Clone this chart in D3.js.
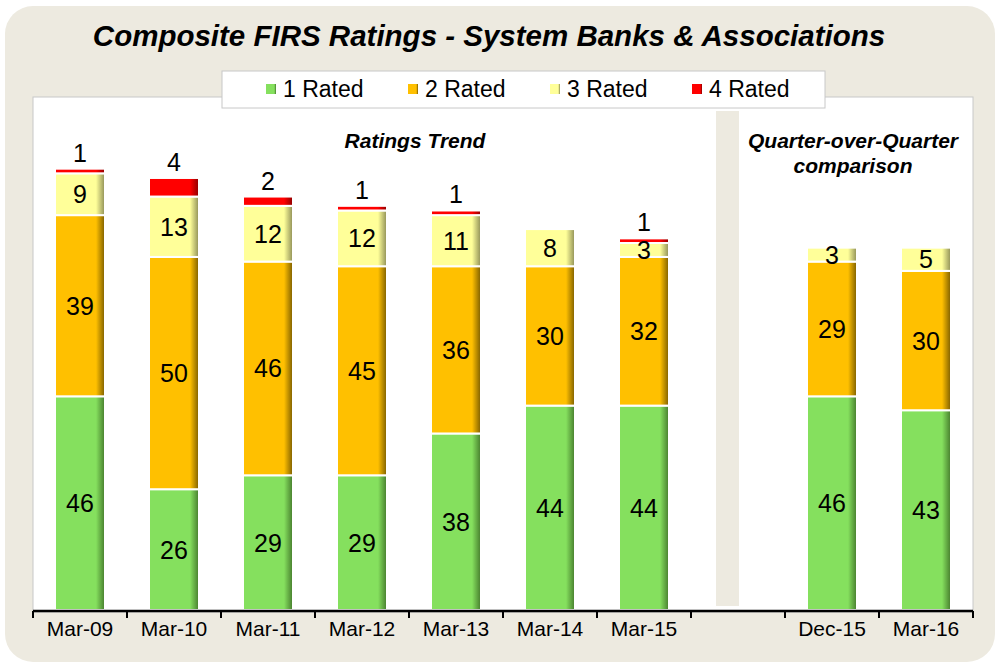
<!DOCTYPE html>
<html lang="en">
<head>
<meta charset="utf-8">
<script src="https://d3js.org/d3.v7.min.js"></script>
<style>
  body { margin: 0; background: #fff; }
  text { font-family: "Liberation Sans", Arial, sans-serif; }
</style>
</head>
<body>
<script>
    // values
    const categories = ["Mar-09", "Mar-10", "Mar-11", "Mar-12", "Mar-13", "Mar-14", "Mar-15", "gap", "Dec-15", "Mar-16"];
    const rated1 = [46, 26, 29, 29, 38, 44, 44, null, 46, 43];
    const rated2 = [39, 50, 46, 45, 36, 30, 32, null, 29, 30];
    const rated3 = [9, 13, 12, 12, 11, 8, 3, null, 3, 5];
    const rated4 = [1, 4, 2, 1, 1, 0, 1, null, 0, 0];
    const seriesNames = ["1 Rated", "2 Rated", "3 Rated", "4 Rated"];

    const W = 1000, H = 665;
    const svg = d3.select("body").append("svg").attr("width", W).attr("height", H);

    const fills = [
        { id: "g1", main: "#85e05e", dark: "#457a2c" },
        { id: "g2", main: "#ffc000", dark: "#7a5c00" },
        { id: "g3", main: "#ffff99", dark: "#8c8c55" },
        { id: "g4", main: "#ff0000", dark: "#8a0000" }
    ];
    const defs = svg.append("defs");
    fills.forEach(f => {
        const g = defs.append("linearGradient").attr("id", f.id)
            .attr("x1", "0%").attr("x2", "100%").attr("y1", "0%").attr("y2", "0%");
        g.append("stop").attr("offset", "0%").attr("stop-color", f.main);
        g.append("stop").attr("offset", "82%").attr("stop-color", f.main);
        g.append("stop").attr("offset", "100%").attr("stop-color", f.dark);
    });

    // outer panel
    svg.append("rect").attr("x", 5).attr("y", 6).attr("width", 990).attr("height", 656)
        .attr("rx", 28).attr("fill", "#edeae0");

    const plotL = 33, plotR = 973, plotT = 97, base = 610;

    // plot area
    svg.append("rect").attr("x", plotL).attr("y", plotT).attr("width", plotR - plotL).attr("height", base - plotT + 2)
        .attr("fill", "#fff").attr("stroke", "#c8c8c8").attr("stroke-width", 1);

    const x = d3.scaleBand().domain(categories).range([plotL, plotR]).paddingInner(0).paddingOuter(0);
    const y = d3.scaleLinear().domain([0, 110]).range([base, 99]);

    // separator column in the gap category
    svg.append("rect")
        .attr("x", x("gap") + 25).attr("width", 23)
        .attr("y", 111).attr("height", 606 - 111)
        .attr("fill", "#edeae0");

    const rows = categories.map((c, i) => ({
        cat: c, "1 Rated": rated1[i], "2 Rated": rated2[i], "3 Rated": rated3[i], "4 Rated": rated4[i]
    })).filter(d => d.cat !== "gap");

    const stacked = d3.stack().keys(seriesNames)(rows);
    const barW = 50;

    const layers = svg.append("g").selectAll("g").data(stacked).join("g")
        .attr("fill", (d, i) => "url(#" + fills[i].id + ")");

    layers.selectAll("rect").data(d => d.filter(s => s[1] - s[0] > 0)).join("rect")
        .attr("x", d => x(d.data.cat) + (x.bandwidth() - barW) / 2)
        .attr("width", barW)
        .attr("y", d => y(d[1]))
        .attr("height", d => y(d[0]) - y(d[1]))
        .attr("stroke", "#fff").attr("stroke-width", 2);

    // labels
    stacked.forEach((layer, li) => {
        layer.forEach(d => {
            const v = d[1] - d[0];
            if (v <= 0) return;
            const cx = x(d.data.cat) + x.bandwidth() / 2;
            const t = svg.append("text").attr("x", cx).attr("text-anchor", "middle")
                .attr("font-size", 25).attr("fill", "#000").text(v);
            if (li === 3) {
                t.attr("y", y(d[1]) - 7);
            } else {
                t.attr("y", (y(d[0]) + y(d[1])) / 2).attr("dy", "0.36em");
            }
        });
    });

    // x axis
    const axis = svg.append("g").attr("transform", "translate(0," + (base + 1) + ")");
    axis.append("line").attr("x1", plotL).attr("x2", plotR).attr("y1", 0).attr("y2", 0)
        .attr("stroke", "#000").attr("stroke-width", 2.5);
    const bounds = categories.map(c => x(c)).concat([plotR]);
    axis.selectAll("line.tick").data(bounds).join("line").attr("class", "tick")
        .attr("x1", d => d).attr("x2", d => d).attr("y1", 0).attr("y2", 7)
        .attr("stroke", "#000").attr("stroke-width", 2);
    axis.selectAll("text").data(categories.filter(c => c !== "gap")).join("text")
        .attr("x", d => x(d) + x.bandwidth() / 2).attr("y", 25)
        .attr("text-anchor", "middle").attr("font-size", 21).text(d => d);

    // titles
    svg.append("text").attr("x", 489).attr("y", 46).attr("text-anchor", "middle")
        .attr("font-size", 29.5).attr("font-weight", "bold").attr("font-style", "italic")
        .text("Composite FIRS Ratings - System Banks & Associations");
    svg.append("text").attr("x", 415).attr("y", 148).attr("text-anchor", "middle")
        .attr("font-size", 21).attr("font-weight", "bold").attr("font-style", "italic")
        .text("Ratings Trend");
    svg.append("text").attr("x", 853).attr("y", 148).attr("text-anchor", "middle")
        .attr("font-size", 21).attr("font-weight", "bold").attr("font-style", "italic")
        .text("Quarter-over-Quarter");
    svg.append("text").attr("x", 853).attr("y", 173).attr("text-anchor", "middle")
        .attr("font-size", 21).attr("font-weight", "bold").attr("font-style", "italic")
        .text("comparison");

    // legend
    svg.append("rect").attr("x", 222).attr("y", 71).attr("width", 603).attr("height", 37)
        .attr("fill", "#fff").attr("stroke", "#c8c8c8");
    const lg = svg.append("g").selectAll("g").data(seriesNames).join("g")
        .attr("transform", (d, i) => "translate(" + (266 + i * 142) + ",0)");
    lg.append("rect").attr("x", 0).attr("y", 84).attr("width", 10).attr("height", 10)
        .attr("fill", (d, i) => "url(#" + fills[i].id + ")");
    lg.append("text").attr("x", 17).attr("y", 97).attr("font-size", 23).text(d => d);
</script>
</body>
</html>
